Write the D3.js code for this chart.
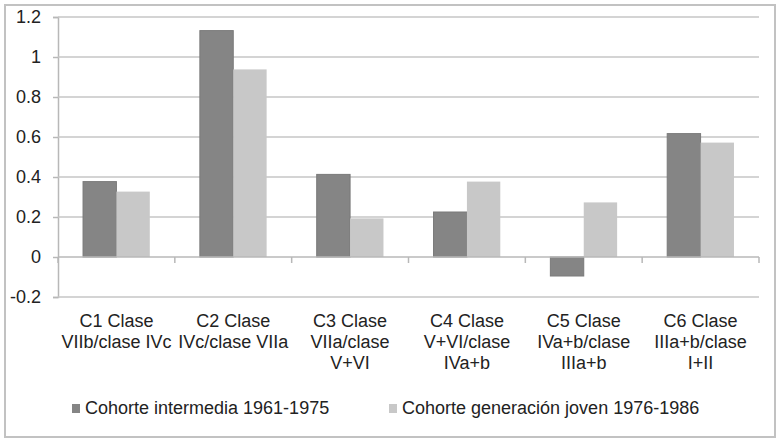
<!DOCTYPE html>
<html>
<head>
<meta charset="utf-8">
<script src="https://cdn.jsdelivr.net/npm/d3@7"></script>
<style>
  body { margin: 0; background: #fff; }
  text { font-family: "Liberation Sans", Arial, sans-serif; fill: #222; }
</style>
</head>
<body>
<div id="chart"></div>
<script>
// data
const categories = [
  ["C1 Clase", "VIIb/clase IVc"],
  ["C2 Clase", "IVc/clase VIIa"],
  ["C3 Clase", "VIIa/clase", "V+VI"],
  ["C4 Clase", "V+VI/clase", "IVa+b"],
  ["C5 Clase", "IVa+b/clase", "IIIa+b"],
  ["C6 Clase", "IIIa+b/clase", "I+II"]
];
const seriesNames = ["Cohorte intermedia 1961-1975", "Cohorte generación joven 1976-1986"];
const intermedia = [0.377, 1.132, 0.413, 0.225, -0.095, 0.617];
const joven = [0.327, 0.938, 0.193, 0.377, 0.273, 0.572];
const yTicks = [-0.2, 0, 0.2, 0.4, 0.6, 0.8, 1, 1.2];
const colors = ["#858585", "#c8c8c8"];

const width = 783, height = 443;
const margin = {top: 17, right: 24, bottom: 146, left: 58};

const svg = d3.select("#chart")
  .append("svg")
  .attr("width", width)
  .attr("height", height);

// outer frame
svg.append("rect")
  .attr("x", 5).attr("y", 5)
  .attr("width", 770).attr("height", 432)
  .attr("fill", "none")
  .attr("stroke", "#c2c2c2")
  .attr("stroke-width", 2);

const keys = categories.map((c, i) => "c" + i);

const x0 = d3.scaleBand()
  .domain(keys)
  .range([margin.left, width - margin.right]);

const x1 = d3.scaleBand()
  .domain([0, 1])
  .range([0, x0.bandwidth()])
  .paddingOuter(0.75);

const y = d3.scaleLinear()
  .domain([-0.2, 1.2])
  .range([height - margin.bottom, margin.top]);

// gridlines + y labels
const yAxis = svg.append("g")
  .attr("transform", `translate(${margin.left},0)`)
  .call(d3.axisLeft(y)
    .tickValues(yTicks)
    .tickSize(5)
    .tickPadding(12)
    .tickFormat(d => String(+d.toFixed(1))));
yAxis.select(".domain").attr("stroke", "#b8b8b8").attr("stroke-width", 1.5);
yAxis.selectAll(".tick line").attr("stroke", "#b8b8b8").attr("stroke-width", 1.5);
yAxis.selectAll(".tick text").attr("font-size", "18px").attr("fill", "#222");
yAxis.attr("font-family", null);

svg.append("g")
  .selectAll("line")
  .data(yTicks.filter(d => d !== 0))
  .enter()
  .append("line")
    .attr("x1", margin.left)
    .attr("x2", width - margin.right)
    .attr("y1", d => y(d))
    .attr("y2", d => y(d))
    .attr("stroke", "#c6c6c6")
    .attr("stroke-width", 1.5);

// bars
const rows = categories.map((c, i) => [intermedia[i], joven[i]]);
svg.append("g")
  .selectAll("g")
  .data(rows)
  .enter()
  .append("g")
    .attr("transform", (d, i) => `translate(${x0(keys[i])},0)`)
  .selectAll("rect")
  .data(d => d.map((v, j) => ({v: v, j: j})))
  .enter()
  .append("rect")
    .attr("x", d => x1(d.j))
    .attr("width", x1.bandwidth())
    .attr("y", d => y(Math.max(0, d.v)))
    .attr("height", d => Math.abs(y(d.v) - y(0)))
    .attr("fill", d => colors[d.j])
    .attr("stroke", d => d.j === 0 ? "#7a7a7a" : "none")
    .attr("stroke-width", 1);

// category axis at zero
const xAxis = svg.append("g")
  .attr("transform", `translate(0,${y(0)})`);
xAxis.append("line")
  .attr("x1", margin.left).attr("x2", width - margin.right)
  .attr("stroke", "#b8b8b8").attr("stroke-width", 1.5);
const edges = x0.domain().map(k => x0(k)).concat([width - margin.right]);
xAxis.selectAll(".tk")
  .data(edges)
  .enter()
  .append("line")
    .attr("x1", d => d).attr("x2", d => d)
    .attr("y1", 0).attr("y2", 6)
    .attr("stroke", "#b8b8b8").attr("stroke-width", 1.5);

// category labels
const labels = svg.append("g")
  .selectAll("text")
  .data(categories)
  .enter()
  .append("text")
    .attr("text-anchor", "middle")
    .attr("font-size", "18px")
    .attr("x", (d, i) => x0(keys[i]) + x0.bandwidth() / 2)
    .attr("y", 327);
labels.selectAll("tspan")
  .data(d => d)
  .enter()
  .append("tspan")
    .attr("x", function() { return this.parentNode.getAttribute("x"); })
    .attr("dy", (d, i) => i === 0 ? 0 : 21)
    .text(d => d);

// legend
const legendX = [72, 389];
const legend = svg.append("g")
  .selectAll("g")
  .data(seriesNames)
  .enter()
  .append("g")
    .attr("transform", (d, i) => `translate(${legendX[i]},0)`);
legend.append("rect")
  .attr("x", 0).attr("y", 404)
  .attr("width", 8).attr("height", 9)
  .attr("fill", (d, i) => colors[i]);
legend.append("text")
  .attr("x", 13).attr("y", 414)
  .attr("font-size", "18px")
  .text(d => d);
</script>
</body>
</html>
